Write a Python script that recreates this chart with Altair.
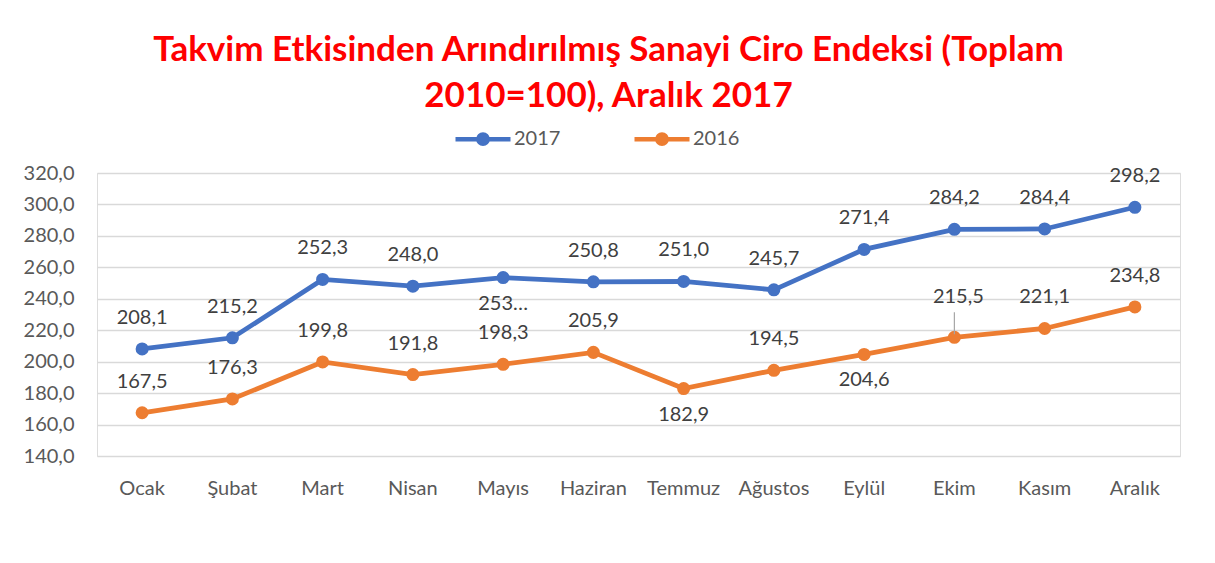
import altair as alt
import pandas as pd

months = ["Ocak", "Şubat", "Mart", "Nisan", "Mayıs", "Haziran",
          "Temmuz", "Ağustos", "Eylül", "Ekim", "Kasım", "Aralık"]
v2017 = [208.1, 215.2, 252.3, 248.0, 253.5, 250.8, 251.0, 245.7, 271.4, 284.2, 284.4, 298.2]
v2016 = [167.5, 176.3, 199.8, 191.8, 198.3, 205.9, 182.9, 194.5, 204.6, 215.5, 221.1, 234.8]
lab2017 = ["208,1", "215,2", "252,3", "248,0", "253…", "250,8", "251,0", "245,7", "271,4", "284,2", "284,4", "298,2"]
lab2016 = ["167,5", "176,3", "199,8", "191,8", "198,3", "205,9", "182,9", "194,5", "204,6", "215,5", "221,1", "234,8"]
pos2017 = ["above"] * 4 + ["below"] + ["above"] * 7
pos2016 = ["above"] * 6 + ["below", "above", "below", "high", "above", "above"]
series = ["2017", "2016"]
colors = ["#4472C4", "#ED7D31"]
y_ticks = [140, 160, 180, 200, 220, 240, 260, 280, 300, 320]

rows = []
for s, vals, labs, poss in [("2017", v2017, lab2017, pos2017), ("2016", v2016, lab2016, pos2016)]:
    for m, v, l, p in zip(months, vals, labs, poss):
        rows.append({"month": m, "series": s, "value": v, "label": l, "pos": p})
df = pd.DataFrame(rows)

FONT = "Lato"
legend_symbol = ("M-1,0H1M-0.17,0A0.17,0.17,0,1,1,0.17,0A0.17,0.17,0,1,1,-0.17,0Z")

x = alt.X("month:N", sort=months, title=None,
          axis=alt.Axis(labelAngle=0, domain=False, ticks=False, grid=False,
                        labelPadding=22, labelFont=FONT, labelFontSize=20,
                        labelColor="#595959"))
y = alt.Y("value:Q", title=None,
          scale=alt.Scale(domain=[140, 320], nice=False, zero=False),
          axis=alt.Axis(values=y_ticks, domain=False, ticks=False,
                        labelExpr="replace(format(datum.value, '.1f'), '.', ',')",
                        labelPadding=23, labelFont=FONT, labelFontSize=20,
                        labelColor="#595959", gridColor="#D9D9D9", gridWidth=1.3))
color = alt.Color("series:N", scale=alt.Scale(domain=series, range=colors), sort=series,
                  legend=alt.Legend(title=None, orient="none", direction="horizontal",
                                    legendX=356, legendY=-64,
                                    symbolType=legend_symbol, symbolSize=3025,
                                    symbolStrokeWidth=4.5, labelOffset=1,
                                    columnPadding=64, labelFont=FONT, labelFontSize=20,
                                    labelColor="#595959"))

base = alt.Chart(df).encode(x=x, y=y)

line = base.mark_line(strokeWidth=4.8).encode(color=color)
pts = base.mark_circle(size=170, opacity=1).encode(color=alt.Color("series:N", scale=alt.Scale(domain=series, range=colors), legend=None))

txt_kw = dict(font=FONT, fontSize=20, color="#404040", baseline="middle")
above = base.transform_filter("datum.pos == 'above'").mark_text(dy=-31, **txt_kw).encode(text="label:N")
below = base.transform_filter("datum.pos == 'below'").mark_text(dy=26, **txt_kw).encode(text="label:N")
high = base.transform_filter("datum.pos == 'high'").mark_text(dy=-40, dx=4, **txt_kw).encode(text="label:N")
leader = base.transform_filter("datum.pos == 'high'").mark_rule(
    color="#A6A6A6", strokeWidth=1.2, yOffset=-3, y2Offset=-25).encode(y2="value:Q")

chart = alt.layer(line, pts, above, below, high, leader).properties(
    width=1083, height=283,
    title=alt.Title(["Takvim Etkisinden Arındırılmış Sanayi Ciro Endeksi (Toplam", "2010=100), Aralık 2017"],
                    color="#FF0000", font=FONT, fontSize=35, fontWeight="bold",
                    anchor="middle", lineHeight=46, offset=-5, dx=-30),
    padding={"left": 89, "top": 165, "right": 27, "bottom": 99},
    autosize=alt.AutoSizeParams(type="none"),
).configure_view(strokeWidth=0).configure(background="white")

chart.save("out.html", embed_options={"renderer": "svg", "actions": False})
